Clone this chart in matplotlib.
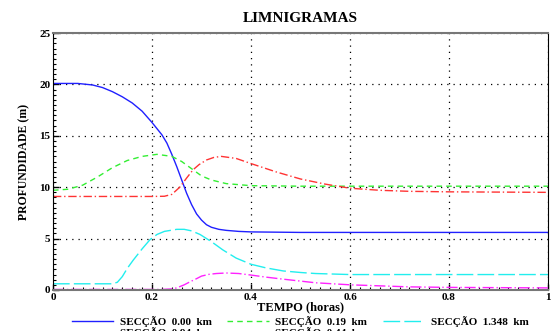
import numpy as np
import matplotlib
matplotlib.use("Agg")
import matplotlib.pyplot as plt
from matplotlib.ticker import MultipleLocator

# tempo (horas) e profundidade (m)
t_blue = [0, 0.05, 0.08, 0.10, 0.12, 0.14, 0.16, 0.18, 0.20, 0.22, 0.23, 0.24, 0.25, 0.26, 0.27, 0.28,
          0.29, 0.30, 0.31, 0.32, 0.335, 0.35, 0.375, 0.40, 0.50, 0.70, 1.0]
h_blue = [20.1, 20.1, 19.95, 19.7, 19.3, 18.8, 18.2, 17.4, 16.3, 15.1, 14.3, 13.2, 12.0, 10.7, 9.4, 8.3,
          7.4, 6.8, 6.35, 6.1, 5.9, 5.8, 5.7, 5.65, 5.6, 5.6, 5.6]

t_green = [0, 0.03, 0.06, 0.09, 0.12, 0.15, 0.18, 0.21, 0.24, 0.26, 0.28, 0.30, 0.32, 0.35, 0.40, 0.50, 1.0]
h_green = [9.7, 9.8, 10.2, 11.0, 11.9, 12.6, 13.0, 13.2, 13.0, 12.5, 11.8, 11.1, 10.7, 10.35, 10.15, 10.1, 10.1]

t_red = [0, 0.20, 0.225, 0.24, 0.256, 0.27, 0.283, 0.295, 0.31, 0.325, 0.34, 0.37, 0.40, 0.45, 0.50,
         0.55, 0.60, 0.66, 0.72, 0.80, 1.0]
h_red = [9.1, 9.1, 9.12, 9.3, 10.0, 10.9, 11.7, 12.2, 12.65, 12.9, 13.0, 12.8, 12.3, 11.5, 10.8,
         10.3, 9.9, 9.7, 9.6, 9.55, 9.5]

t_cyan = [0, 0.12, 0.13, 0.14, 0.15, 0.162, 0.18, 0.196, 0.21, 0.225, 0.25, 0.265, 0.28, 0.297, 0.32,
          0.343, 0.37, 0.40, 0.43, 0.465, 0.50, 0.53, 0.60, 0.70, 1.0]
h_cyan = [0.6, 0.6, 0.75, 1.3, 2.1, 2.9, 4.0, 4.9, 5.4, 5.7, 5.9, 5.9, 5.75, 5.4, 4.7,
          3.9, 3.1, 2.5, 2.15, 1.85, 1.7, 1.6, 1.5, 1.5, 1.5]

t_mag = [0, 0.22, 0.24, 0.25, 0.265, 0.277, 0.29, 0.30, 0.315, 0.33, 0.35, 0.375, 0.40, 0.43, 0.465,
         0.53, 0.60, 0.72, 0.80, 1.0]
h_mag = [0.05, 0.05, 0.1, 0.2, 0.5, 0.8, 1.1, 1.35, 1.52, 1.6, 1.65, 1.6, 1.45, 1.25, 1.05,
         0.7, 0.5, 0.3, 0.25, 0.2]

labels = ["SECÇÃO  0.00  km", "SECÇÃO  0.94  km", "SECÇÃO  0.19  km",
          "SECÇÃO  0.44  km", "SECÇÃO  1.348  km"]

serif = ["Liberation Serif", "DejaVu Serif"]

fig = plt.figure(figsize=(5.55, 3.31), dpi=100)
ax = fig.add_axes([0.0955, 0.124, 0.892, 0.776])

l1, = ax.plot(t_blue, h_blue, color="#2020ff", lw=1.0, ls="-")
l3, = ax.plot(t_green, h_green, color="#33ee33", lw=1.0, ls=(0, (4, 3)))
l2, = ax.plot(t_red, h_red, color="#ff3333", lw=1.0, ls=(0, (6, 2, 1, 2)))
l5, = ax.plot(t_cyan, h_cyan, color="#22eeee", lw=1.0, ls=(0, (12, 3)))
l4, = ax.plot(t_mag, h_mag, color="#ff22ff", lw=1.0, ls=(0, (8, 2, 1, 2)))

ax.set_xlim(0, 1)
ax.set_ylim(0, 25)
ax.xaxis.set_major_locator(MultipleLocator(0.2))
ax.xaxis.set_minor_locator(MultipleLocator(0.02))
ax.yaxis.set_major_locator(MultipleLocator(5))
ax.yaxis.set_minor_locator(MultipleLocator(0.5))
ax.xaxis.set_major_formatter(plt.FuncFormatter(lambda v, p: "%g" % v))
ax.grid(True, which="major", color="black", ls=(0, (1, 4)), lw=0.9)
ax.tick_params(which="major", direction="in", length=4, width=1, labelsize=8, pad=2)
ax.tick_params(which="minor", direction="in", length=2, width=0.8)
for lab in ax.get_xticklabels() + ax.get_yticklabels():
    lab.set_family(serif)
    lab.set_fontweight("bold")
ax.spines["top"].set_color("#777777")
ax.spines["top"].set_linewidth(1.5)
ax.spines["bottom"].set_color("#777777")
ax.spines["bottom"].set_linewidth(1.5)

ax.set_title("LIMNIGRAMAS", family=serif, fontsize=11, fontweight="bold", pad=8)
ax.set_xlabel("TEMPO (horas)", family=serif, fontsize=9, fontweight="bold", labelpad=0)
ax.set_ylabel("PROFUNDIDADE (m)", family=serif, fontsize=8.5, fontweight="bold", labelpad=6)

fig.legend([l1, l2, l3, l4, l5], labels, ncol=3, loc="upper left",
           bbox_to_anchor=(0.12, 0.062), frameon=False, handlelength=3.7,
           columnspacing=1.4, handletextpad=0.6, labelspacing=0.05,
           borderpad=0, prop={"family": serif, "weight": "bold", "size": 8})

fig.savefig("out.png", dpi=100)
